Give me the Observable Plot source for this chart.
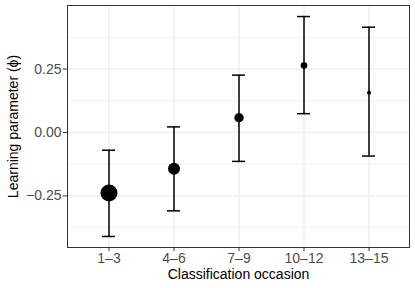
<!DOCTYPE html>
<html>
<head>
<meta charset="utf-8">
<script src="https://cdn.jsdelivr.net/npm/d3@7"></script>
<script src="https://cdn.jsdelivr.net/npm/@observablehq/plot@0.6"></script>
<style>
  html, body { margin: 0; padding: 0; background: #fff; }
  #chart svg { display: block; }
</style>
</head>
<body>
<div id="chart"></div>
<script>
// ---- data ----
const occasions = ["1–3", "4–6", "7–9", "10–12", "13–15"];
const phi       = [-0.239, -0.143, 0.058, 0.264, 0.157];
const lower     = [-0.410, -0.309, -0.114, 0.074, -0.093];
const upper     = [-0.070, 0.022, 0.226, 0.457, 0.415];
const weight    = [72, 36, 22, 11, 4];   // relative point size (area)
const yMajor    = [-0.25, 0, 0.25];
const yMinor    = [-0.375, -0.125, 0.125, 0.375];

const rows = occasions.map((o, i) => ({occ: o, phi: phi[i], lo: lower[i], hi: upper[i], w: weight[i]}));

const font = "'Liberation Sans', Arial, Helvetica, sans-serif";
const fmt = d3.format(".2f");

const chart = Plot.plot({
  width: 415,
  height: 288,
  marginLeft: 67,
  marginRight: 6,
  marginTop: 5,
  marginBottom: 41,
  style: {fontFamily: font, fontSize: "14px", background: "#fff"},
  x: {type: "band", domain: occasions, paddingInner: 0.807, paddingOuter: 0.5035},
  y: {domain: [-0.4535, 0.5005]},
  r: {type: "sqrt", domain: [0, 72], range: [0, 8.5]},
  marks: [
    Plot.gridY(yMinor, {stroke: "#ebebeb", strokeOpacity: 1, strokeWidth: 0.7}),
    Plot.gridY(yMajor, {stroke: "#ebebeb", strokeOpacity: 1, strokeWidth: 1.3}),
    Plot.gridX(occasions, {stroke: "#ebebeb", strokeOpacity: 1, strokeWidth: 1.3}),
    Plot.axisY(yMajor, {tickSize: 4, stroke: "#333", tickFormat: () => "", label: null}),
    Plot.axisX({tickSize: 4, stroke: "#333", tickFormat: () => "", label: null}),
    Plot.text(yMajor, {y: d => d, text: d => fmt(d), frameAnchor: "left", dx: -6,
      textAnchor: "end", lineAnchor: "middle", fontSize: 14, fill: "#4d4d4d"}),
    Plot.text(occasions, {x: d => d, text: d => d, frameAnchor: "bottom", dy: 11.5,
      textAnchor: "middle", lineAnchor: "middle", fontSize: 14, fill: "#4d4d4d"}),
    Plot.ruleX(rows, {x: "occ", y1: "lo", y2: "hi", stroke: "#000", strokeWidth: 1.5}),
    Plot.tickY(rows, {x: "occ", y: "lo", stroke: "#000", strokeWidth: 1.5}),
    Plot.tickY(rows, {x: "occ", y: "hi", stroke: "#000", strokeWidth: 1.5}),
    Plot.dot(rows, {x: "occ", y: "phi", r: "w", fill: "#000", stroke: "none"}),
    Plot.frame({stroke: "#333", strokeWidth: 1}),
    Plot.text(["Classification occasion"], {frameAnchor: "bottom", dy: 27, lineAnchor: "middle",
      textAnchor: "middle", fontSize: 14, fill: "#000"}),
    Plot.text(["Learning parameter (ϕ)"], {frameAnchor: "left", dx: -54, rotate: -90, lineAnchor: "middle",
      textAnchor: "middle", fontSize: 14, fill: "#000"})
  ]
});
document.getElementById("chart").appendChild(chart);
</script>
</body>
</html>
